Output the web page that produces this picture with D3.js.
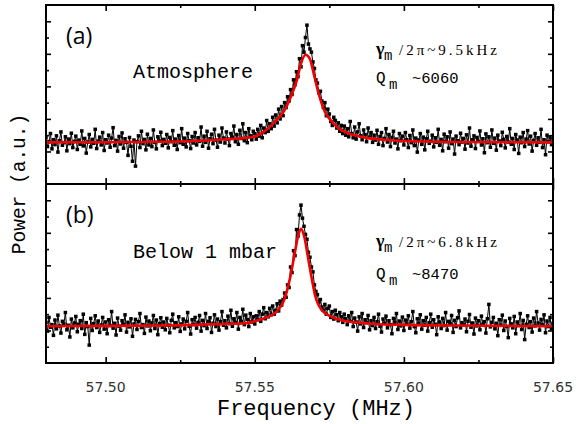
<!DOCTYPE html>
<html>
<head>
<meta charset="utf-8">
<script src="https://cdn.jsdelivr.net/npm/d3@7"></script>
<style>
  body { margin: 0; background: #fff; }
</style>
</head>
<body>
<div id="vis"></div>
<script>
// Constantes
const WIDTH = 576;
const HEIGHT = 424;
const margin = { top: 5, right: 23, bottom: 61, left: 46 };
const width = WIDTH - margin.left - margin.right;
const height = HEIGHT - margin.top - margin.bottom;
const panelH = height / 2;

// Datos: eje de frecuencia (MHz), paso del analizador
const freqStart = 57.48;
const freqStep = 0.0005;
const xTicks = [57.50, 57.55, 57.60, 57.65];

// Panel (a) - atmosfera, potencia medida (u.a.)
const powerA = [
  1.42,1.15,1.30,1.55,1.08,1.36,1.21,1.48,0.98,1.33,1.60,1.19,1.27,1.45,1.02,1.38,1.24,1.56,1.12,1.31,
  1.47,1.06,1.35,1.22,1.63,1.17,1.40,0.95,1.29,1.52,1.14,1.37,1.25,1.68,1.09,1.32,1.44,1.20,1.58,1.03,
  1.36,1.26,1.50,1.13,1.41,1.73,1.18,1.34,1.01,1.46,1.23,1.57,1.10,1.39,1.28,0.88,1.43,1.16,0.70,1.35,
  0.55,1.30,1.48,1.12,1.62,1.24,1.37,1.05,1.53,1.20,1.40,1.15,1.66,1.28,1.08,1.45,1.32,1.59,1.18,1.37,
  1.25,1.52,1.11,1.43,1.30,1.64,1.19,1.38,1.06,1.49,1.27,1.70,1.22,1.41,1.14,1.55,1.33,1.09,1.46,1.26,
  1.58,1.20,1.42,1.31,1.75,1.16,1.47,1.28,1.62,1.10,1.39,1.53,1.24,1.68,1.35,1.13,1.50,1.29,1.72,1.41,
  1.26,1.60,1.38,1.18,1.55,1.44,1.78,1.30,1.52,1.22,1.65,1.40,1.85,1.33,1.58,1.27,1.70,1.48,1.36,1.62,
  1.55,1.38,1.68,1.47,1.80,1.42,1.72,1.58,1.95,1.62,1.85,1.70,2.05,1.78,2.12,1.88,2.30,2.00,2.38,2.10,
  2.50,2.35,2.68,2.55,2.90,2.75,3.20,3.05,3.45,3.30,3.85,3.60,4.25,4.05,4.50,4.88,4.30,4.15,4.05,3.75,
  3.55,3.20,3.10,2.80,2.85,2.55,2.35,2.50,2.10,2.30,2.15,1.92,1.80,2.05,1.95,1.72,1.88,1.62,1.80,1.55,
  1.78,1.50,1.70,1.45,1.92,1.55,1.42,1.75,1.38,1.60,1.85,1.48,1.36,1.66,1.52,1.30,1.72,1.44,1.58,1.28,
  1.50,1.35,1.65,1.22,1.46,1.58,1.18,1.40,1.70,1.29,1.52,1.15,1.43,1.62,1.26,1.38,1.08,1.55,1.33,1.47,
  1.20,1.58,1.36,1.12,1.49,1.27,1.66,1.18,1.41,0.98,1.35,1.55,1.22,1.44,1.05,1.39,1.62,1.25,1.31,1.50,
  1.14,1.42,1.28,1.68,1.19,1.37,1.02,1.53,1.30,1.45,1.10,1.60,1.24,1.38,0.92,1.47,1.33,1.21,1.56,1.29,
  1.40,1.07,1.51,1.26,1.72,1.16,1.36,1.48,1.09,1.43,1.31,1.63,1.20,1.39,0.96,1.54,1.27,1.45,1.13,1.66,
  1.25,1.41,1.04,1.50,1.32,1.18,1.59,1.37,1.11,1.46,1.29,1.70,1.22,1.40,1.06,1.52,1.35,0.94,1.44,1.27,
  1.58,1.15,1.38,1.64,1.23,1.47,1.01,1.34,1.55,1.19,1.42,1.28,1.68,1.12,1.36,0.90,1.50,1.30,1.45,1.21,1.38
];

// Panel (b) - por debajo de 1 mbar
const powerB = [
  1.25,0.98,1.40,1.10,1.18,0.85,1.32,1.05,1.47,1.14,0.92,1.28,1.20,1.55,1.02,1.16,0.80,1.35,1.08,1.23,
  1.43,0.96,1.19,1.30,1.06,1.50,0.88,1.24,1.12,0.55,1.37,1.00,1.21,1.45,1.09,1.29,0.94,1.17,1.40,1.04,
  1.26,0.90,1.33,1.15,1.58,1.07,1.22,0.86,1.38,1.13,1.01,1.30,1.19,1.48,0.95,1.25,1.11,1.36,0.82,1.20,
  1.34,1.03,1.27,1.52,1.09,1.18,0.91,1.41,1.14,1.29,0.99,1.23,1.46,1.06,1.32,0.87,1.21,1.39,1.10,1.26,
  1.02,1.37,1.16,0.93,1.31,1.50,1.08,1.24,1.12,1.42,0.97,1.20,1.35,1.05,1.28,1.55,1.13,0.89,1.33,1.18,
  1.40,1.07,1.25,1.46,0.98,1.31,1.15,1.52,1.06,1.28,1.39,0.94,1.22,1.48,1.12,1.35,1.01,1.27,1.58,1.16,
  1.30,1.08,1.44,1.21,1.62,1.13,1.36,1.25,1.55,1.04,1.40,1.28,1.65,1.18,1.47,1.34,1.12,1.52,1.26,1.42,
  1.20,1.45,1.33,1.58,1.28,1.50,1.70,1.36,1.55,1.42,1.68,1.48,1.75,1.50,1.62,1.82,1.60,1.90,1.78,1.95,
  2.15,2.02,2.40,2.32,2.95,2.78,3.45,3.30,4.10,3.90,4.55,4.85,4.45,4.20,3.95,3.80,3.40,3.25,2.95,2.80,
  2.40,2.20,2.10,1.85,1.95,1.72,1.62,1.80,1.50,1.68,1.75,1.40,1.58,1.35,1.62,1.48,1.30,1.55,1.42,1.25,
  1.50,1.36,1.18,1.45,1.28,1.55,1.12,1.38,1.26,0.98,1.42,1.20,1.52,1.09,1.33,1.24,1.46,1.02,1.30,1.15,
  1.40,1.06,1.27,1.50,1.13,0.95,1.35,1.22,1.44,1.08,1.30,1.18,0.90,1.37,1.25,1.52,1.03,1.29,1.14,1.41,
  1.00,1.32,1.20,1.45,1.07,1.27,1.58,1.12,0.93,1.36,1.22,1.48,1.04,1.30,1.16,1.40,0.98,1.24,1.50,1.10,
  1.33,1.19,0.87,1.42,1.26,1.06,1.37,1.15,1.55,1.01,1.28,1.21,1.46,0.94,1.31,1.12,1.39,1.60,1.08,1.24,
  1.17,1.35,0.96,1.28,1.49,1.10,1.23,0.89,1.38,1.14,1.30,1.02,1.44,1.19,1.27,0.92,1.36,1.80,1.11,1.25,
  1.40,1.05,1.22,0.84,1.33,1.16,1.47,1.00,1.29,1.12,0.78,1.37,1.20,1.08,1.43,0.90,1.26,1.15,1.52,1.03,
  1.31,0.72,1.19,1.45,1.09,1.27,0.95,1.38,1.14,1.58,1.23,1.01,1.34,1.17,1.48,0.93,1.29,1.12,1.40,1.06,1.22
];

// Ajuste lorentziano
const fitFreqA = [57.480,57.500,57.520,57.530,57.540,57.545,57.550,57.553,57.556,57.558,57.560,57.562,57.564,57.5655,57.567,57.5685,57.570,57.5715,57.5735,57.576,57.578,57.580,57.584,57.588,57.595,57.600,57.620,57.650];
const fitPowerA = [1.28,1.285,1.30,1.32,1.37,1.40,1.46,1.60,1.84,2.03,2.27,2.66,3.15,3.70,3.97,3.84,3.30,2.75,2.22,1.90,1.72,1.61,1.49,1.41,1.35,1.32,1.29,1.28];
const fitFreqB = [57.480,57.500,57.520,57.530,57.540,57.5467,57.5512,57.5557,57.5579,57.560,57.5618,57.5635,57.5646,57.5655,57.5666,57.5679,57.5691,57.5702,57.5724,57.5758,57.5803,57.585,57.590,57.600,57.620,57.650];
const fitPowerB = [1.13,1.14,1.15,1.17,1.20,1.22,1.32,1.47,1.63,1.97,2.60,3.42,3.93,4.12,3.88,3.22,2.60,2.09,1.63,1.42,1.29,1.24,1.20,1.17,1.15,1.13];

const panels = [
  { id: "a", label: "(a)", name: "Atmosphere", power: powerA, fitF: fitFreqA, fitP: fitPowerA,
    gamma: "/2π~9.5kHz", q: "~6060", nameY: 73, gy: 50, qy: 78 },
  { id: "b", label: "(b)", name: "Below 1 mbar", power: powerB, fitF: fitFreqB, fitP: fitPowerB,
    gamma: "/2π~6.8kHz", q: "~8470", nameY: 74, gy: 63, qy: 95 }
];

// svg
const svg = d3.select("#vis")
  .append("svg")
  .attr("width", WIDTH)
  .attr("height", HEIGHT);

const root = svg.append("g")
  .attr("transform", `translate(${margin.left}, ${margin.top})`);

// Escalas
const x = d3.scaleLinear().domain([57.48, 57.65]).range([0, width]);
const y = d3.scaleLinear().domain([0, 5.5]).range([panelH, 0]);

const mono = "'Liberation Mono', 'Courier New', monospace";
const serif = "'Liberation Serif', 'Times New Roman', serif";

panels.forEach((p, k) => {
  const g = root.append("g").attr("transform", `translate(0, ${k * panelH})`);

  g.append("clipPath").attr("id", "clip-" + p.id)
    .append("rect").attr("width", width).attr("height", panelH);

  const pts = p.power.map((v, i) => ({ f: freqStart + i * freqStep, v: v }));

  const plot = g.append("g").attr("clip-path", `url(#clip-${p.id})`);

  // linea de datos
  plot.append("path")
    .datum(pts)
    .attr("fill", "none")
    .attr("stroke", "#000")
    .attr("stroke-width", 1)
    .attr("d", d3.line().x(d => x(d.f)).y(d => y(d.v)));

  // marcadores
  plot.selectAll("rect.pt")
    .data(pts)
    .join("rect")
    .attr("class", "pt")
    .attr("x", d => x(d.f) - 1.75)
    .attr("y", d => y(d.v) - 1.75)
    .attr("width", 3.5)
    .attr("height", 3.5)
    .attr("fill", "#000");

  // ajuste
  plot.append("path")
    .datum(p.fitF.map((f, i) => ({ f: f, v: p.fitP[i] })))
    .attr("fill", "none")
    .attr("stroke", "#f00000")
    .attr("stroke-width", 2.6)
    .attr("d", d3.line().curve(d3.curveMonotoneX).x(d => x(d.f)).y(d => y(d.v)));

  // ejes (ticks hacia dentro)
  const xMinor = [57.525, 57.575, 57.625];
  g.append("g").attr("transform", `translate(0, ${panelH})`)
    .call(d3.axisBottom(x).tickValues(xMinor).tickSize(-3).tickFormat(""));
  g.append("g").attr("transform", `translate(0, ${panelH})`)
    .call(d3.axisBottom(x).tickValues(xTicks).tickSize(-6).tickFormat(""));
  g.append("g")
    .call(d3.axisTop(x).tickValues(xMinor).tickSize(-3).tickFormat(""));
  g.append("g")
    .call(d3.axisTop(x).tickValues(xTicks).tickSize(-6).tickFormat(""));

  const yMinor = [0.5, 1.5, 2.5, 3.5, 4.5];
  const yMajor = [1, 2, 3, 4, 5];
  g.append("g").call(d3.axisLeft(y).tickValues(yMinor).tickSize(-3).tickFormat(""));
  g.append("g").call(d3.axisLeft(y).tickValues(yMajor).tickSize(-5).tickFormat(""));
  g.append("g").attr("transform", `translate(${width}, 0)`)
    .call(d3.axisRight(y).tickValues(yMinor).tickSize(-3).tickFormat(""));
  g.append("g").attr("transform", `translate(${width}, 0)`)
    .call(d3.axisRight(y).tickValues(yMajor).tickSize(-5).tickFormat(""));

  g.selectAll(".domain").remove();
  g.selectAll(".tick line").attr("stroke", "#000").attr("stroke-width", 1.6);

  g.append("rect")
    .attr("width", width).attr("height", panelH)
    .attr("fill", "none").attr("stroke", "#000").attr("stroke-width", 2);

  // textos
  g.append("text").attr("x", 20).attr("y", 39)
    .style("font-family", "'Open Sans', Lato, sans-serif").style("font-size", "23px")
    .text(p.label);

  g.append("text").attr("x", 87).attr("y", p.nameY)
    .style("font-family", mono).style("font-size", "20px")
    .text(p.name);

  g.append("text").attr("x", 330).attr("y", p.gy)
    .style("font-family", serif).style("font-weight", "bold").style("font-size", "18px")
    .text("γ");
  g.append("text").attr("x", 338).attr("y", p.gy + 5)
    .style("font-family", mono).style("font-size", "14px")
    .text("m");
  g.append("text").attr("x", 353).attr("y", p.gy)
    .attr("textLength", 98).attr("lengthAdjust", "spacing")
    .style("font-family", serif).style("font-size", "15px")
    .text(p.gamma);

  g.append("text").attr("x", 330).attr("y", p.qy)
    .style("font-family", mono).style("font-size", "16px")
    .text("Q");
  g.append("text").attr("x", 343).attr("y", p.qy + 6)
    .style("font-family", mono).style("font-size", "14px")
    .text("m");
  g.append("text").attr("x", 366).attr("y", p.qy)
    .style("font-family", mono).style("font-size", "15.5px")
    .text(p.q);
});

// etiquetas del eje x
root.append("g")
  .selectAll("text")
  .data(xTicks)
  .join("text")
  .attr("x", d => x(d))
  .attr("y", height + 29)
  .attr("text-anchor", "middle")
  .style("font-family", "'DejaVu Sans', Verdana, sans-serif")
  .style("font-size", "14px")
  .style("fill", "#333")
  .text(d => d.toFixed(2));

root.append("text")
  .attr("x", 270)
  .attr("y", height + 52)
  .attr("text-anchor", "middle")
  .style("font-family", mono)
  .style("font-size", "22px")
  .text("Frequency (MHz)");

svg.append("text")
  .attr("transform", `translate(25, ${margin.top + height / 2}) rotate(-90)`)
  .attr("text-anchor", "middle")
  .style("font-family", mono)
  .style("font-size", "19.5px")
  .text("Power (a.u.)");
</script>
</body>
</html>
